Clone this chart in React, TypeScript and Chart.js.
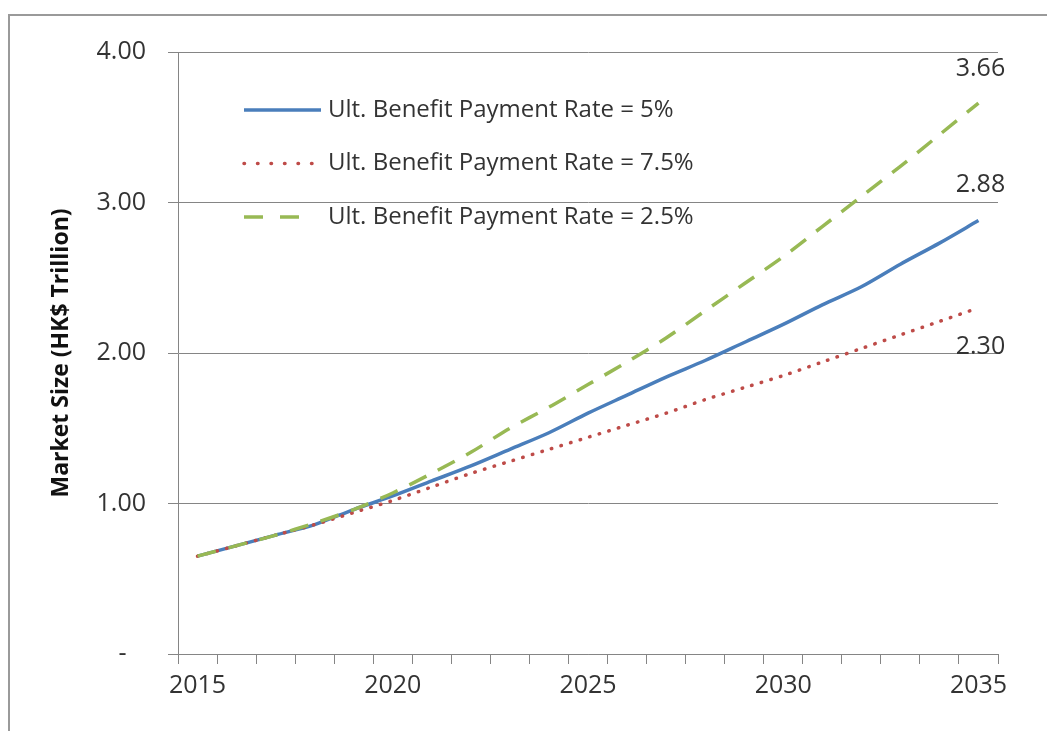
import React, { useEffect, useRef } from 'react';
import { Chart, registerables } from 'chart.js';

Chart.register(...registerables);

const years = [
  '2015', '2016', '2017', '2018', '2019', '2020', '2021', '2022', '2023', '2024', '2025',
  '2026', '2027', '2028', '2029', '2030', '2031', '2032', '2033', '2034', '2035',
];
const rate5 = [0.65, 0.72, 0.79, 0.86, 0.96, 1.05, 1.15, 1.25, 1.36, 1.47, 1.6, 1.72, 1.84, 1.95, 2.07, 2.19, 2.32, 2.44, 2.59, 2.73, 2.88];
const rate75 = [0.65, 0.72, 0.79, 0.86, 0.94, 1.02, 1.11, 1.2, 1.28, 1.36, 1.44, 1.52, 1.6, 1.69, 1.77, 1.85, 1.94, 2.03, 2.12, 2.21, 2.3];
const rate25 = [0.65, 0.72, 0.79, 0.87, 0.96, 1.07, 1.2, 1.34, 1.5, 1.64, 1.79, 1.94, 2.1, 2.28, 2.46, 2.64, 2.84, 3.04, 3.24, 3.45, 3.66];
const seriesLabels = [
  'Ult. Benefit Payment Rate = 5%',
  'Ult. Benefit Payment Rate = 7.5%',
  'Ult. Benefit Payment Rate = 2.5%',
];
const yAxisTitle = 'Market Size (HK$ Trillion)';
const labeledYears = ['2015', '2020', '2025', '2030', '2035'];

const FONT = '"Open Sans", Lato, sans-serif';
const TEXT = '#333333';
const GRID = '#858585';

const overlayPlugin = {
  id: 'overlay',
  afterDatasetsDraw(chart: any) {
    const ctx = chart.ctx;
    const area = chart.chartArea;
    const labelOffsets = [-36, 39, -34];
    ctx.save();
    chart.data.datasets.forEach((ds: any, i: number) => {
      // legend entry
      const y = area.top + 58 + i * 53.5;
      const x0 = area.left + 66;
      ctx.strokeStyle = ds.borderColor;
      ctx.lineWidth = ds.borderWidth;
      ctx.lineCap = ds.legendCap || 'butt';
      ctx.setLineDash(ds.legendDash || []);
      ctx.beginPath();
      ctx.moveTo(x0, y);
      ctx.lineTo(x0 + (ds.legendLen || 77), y);
      ctx.stroke();
      ctx.setLineDash([]);
      ctx.fillStyle = TEXT;
      ctx.font = '24px ' + FONT;
      ctx.textBaseline = 'middle';
      ctx.textAlign = 'left';
      ctx.fillText(ds.label, area.left + 150, y);
      // end value label
      ctx.font = '25px ' + FONT;
      const meta = chart.getDatasetMeta(i);
      const pt = meta.data[meta.data.length - 1];
      const v = ds.data[ds.data.length - 1];
      ctx.textAlign = 'center';
      ctx.fillText(Number(v).toFixed(2), pt.x + 2, pt.y + labelOffsets[i]);
    });
    ctx.restore();
  },
};

export default function App() {
  const ref = useRef<HTMLCanvasElement | null>(null);

  useEffect(() => {
    if (!ref.current) return;
    const chart = new Chart(ref.current, {
      type: 'line',
      data: {
        labels: years,
        datasets: [
          {
            label: seriesLabels[0],
            data: rate5,
            borderColor: '#4A7EBB',
            borderWidth: 3.5,
            pointRadius: 0,
            tension: 0.3,
            order: 2,
            legendLen: 77,
          } as any,
          {
            label: seriesLabels[1],
            data: rate75,
            borderColor: '#BE4B48',
            borderWidth: 3.5,
            borderDash: [0.5, 9.5],
            borderCapStyle: 'round',
            pointRadius: 0,
            tension: 0.3,
            order: 1,
            legendDash: [0.5, 13],
            legendCap: 'round',
            legendLen: 68,
          } as any,
          {
            label: seriesLabels[2],
            data: rate25,
            borderColor: '#98B954',
            borderWidth: 3.5,
            borderDash: [19, 13],
            pointRadius: 0,
            tension: 0.3,
            order: 0,
            legendDash: [19, 17],
            legendLen: 56,
          } as any,
        ],
      },
      options: {
        responsive: false,
        animation: false,
        layout: { padding: { left: 0, top: 52, right: 49, bottom: 0 } },
        plugins: {
          legend: { display: false },
          tooltip: { enabled: false },
        },
        scales: {
          x: {
            type: 'category',
            offset: true,
            grid: {
              offset: true,
              drawOnChartArea: false,
              drawTicks: true,
              tickLength: 10,
              color: GRID,
              lineWidth: 1,
            },
            border: { display: true, color: GRID, width: 1 },
            ticks: {
              autoSkip: false,
              maxRotation: 0,
              padding: 7,
              color: TEXT,
              font: { family: FONT, size: 25 },
              callback: (_v: any, idx: number) =>
                labeledYears.includes(years[idx]) ? years[idx] : '',
            },
            afterFit: (s: any) => {
              s.height = 77;
            },
          },
          y: {
            min: 0,
            max: 4,
            grid: {
              color: GRID,
              lineWidth: 1,
              drawTicks: true,
              tickLength: 10,
            },
            border: { display: true, color: GRID, width: 1 },
            ticks: {
              stepSize: 1,
              padding: 22,
              color: TEXT,
              font: { family: FONT, size: 25 },
              callback: (v: any) => (Number(v) === 0 ? '-\u00a0\u00a0\u00a0' : Number(v).toFixed(2)),
            },
            title: {
              display: true,
              text: yAxisTitle,
              color: '#111111',
              font: { family: FONT, size: 23, weight: 'bold' },
              padding: { top: 48, bottom: 0 },
              align: 'center',
            },
            afterFit: (s: any) => {
              s.width = 178;
            },
          },
        },
      },
      plugins: [overlayPlugin],
    });
    return () => chart.destroy();
  }, []);

  return (
    <div style={{ position: 'fixed', left: 0, top: 0, width: 1047, height: 731, background: '#ffffff', overflow: 'hidden' }}>
      <div
        style={{
          position: 'absolute',
          left: 8,
          top: 14,
          width: 1100,
          height: 800,
          borderLeft: '2px solid #9a9a9a',
          borderTop: '2px solid #9a9a9a',
        }}
      />
      <canvas ref={ref} width={1047} height={731} style={{ position: 'absolute', left: 0, top: 0 }} />
    </div>
  );
}
